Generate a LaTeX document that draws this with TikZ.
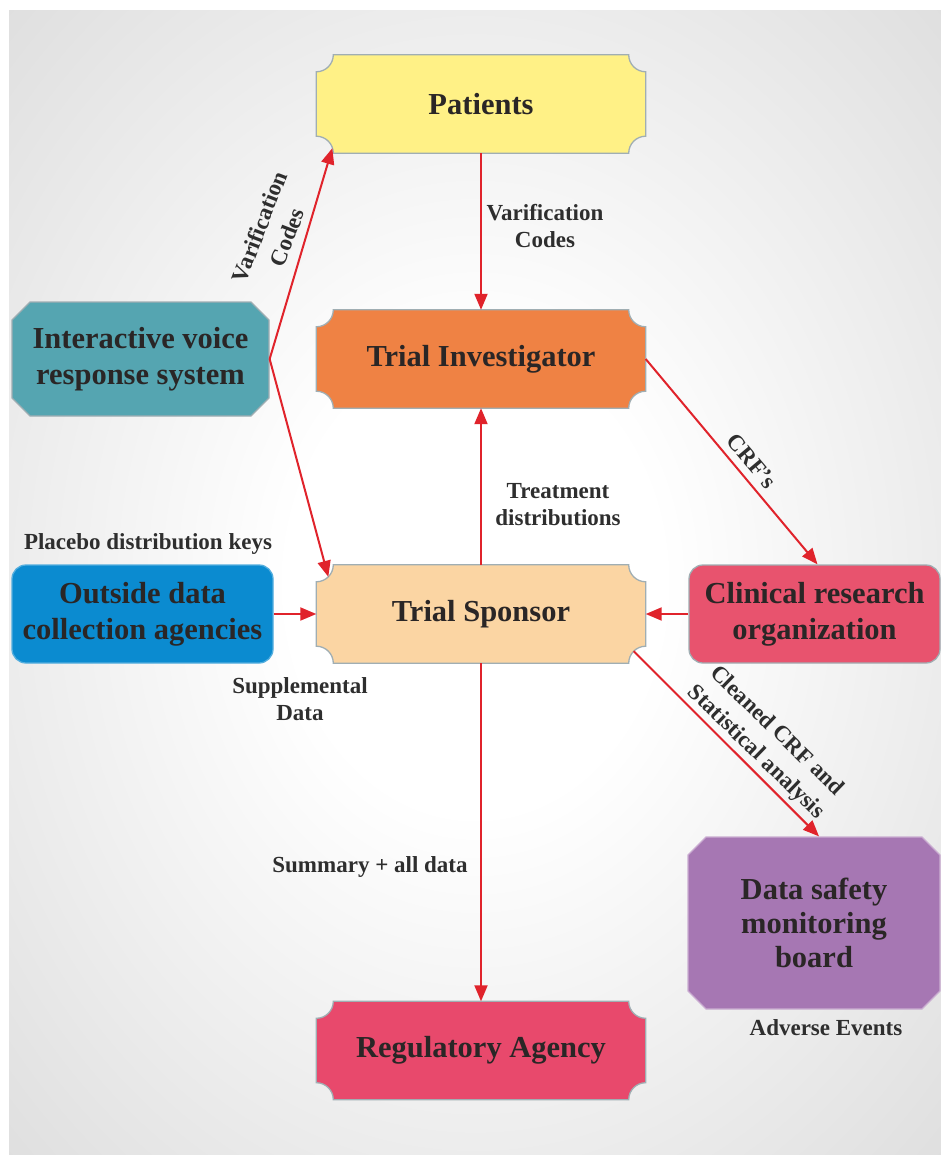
\documentclass[tikz,border=0pt]{standalone}
\usepackage{fontspec}
\setmainfont{Liberation Serif}
\usetikzlibrary{arrows.meta,shapes.misc,calc}
\pgfdeclarelayer{back}
\pgfdeclarelayer{shapes}
\pgfsetlayers{back,shapes,main}
\definecolor{patfill}{HTML}{FFF186}
\definecolor{invfill}{HTML}{EF8244}
\definecolor{spofill}{HTML}{FBD5A3}
\definecolor{regfill}{HTML}{E8496C}
\definecolor{ivrfill}{HTML}{55A5B1}
\definecolor{outfill}{HTML}{0B8BD0}
\definecolor{crofill}{HTML}{E8536E}
\definecolor{dsmfill}{HTML}{A677B3}
\definecolor{border}{HTML}{A0AEB3}
\definecolor{txt}{HTML}{2A2626}
\definecolor{lbltxt}{HTML}{2E2E2E}
\definecolor{arrowred}{HTML}{E0232B}
\definecolor{bgmid}{HTML}{CDCDCD}
\definecolor{bgout}{HTML}{C6C6C6}
\pgfdeclareradialshading{bgshade}{\pgfpoint{0bp}{0bp}}{color(0bp)=(white); color(10bp)=(white); color(50bp)=(bgmid); color(72bp)=(bgout)}
\tikzset{
  boxtext/.style={font=\bfseries\fontsize{30.5}{36}\selectfont, text=txt, align=center, inner sep=0pt},
  notchbox/.style={boxtext, rectangle, minimum width=329pt, minimum height=98pt},
  chambox/.style={boxtext, chamfered rectangle, chamfered rectangle xsep=9pt, chamfered rectangle ysep=9pt, draw=border, line width=1.3pt},
  roundbox/.style={boxtext, rectangle, rounded corners=14pt, draw=border, line width=1.3pt},
  lbl/.style={font=\bfseries\fontsize{23}{27}\selectfont, text=lbltxt, align=center, inner sep=0pt},
  rlbl/.style={lbl, font=\bfseries\fontsize{23}{29.5}\selectfont},
  flow/.style={draw=arrowred, line width=2pt, -{Triangle[length=16pt,width=13pt]}},
}
\newcommand\notchfill[2]{%
  \begin{pgfonlayer}{shapes}
  \path[fill=#2, draw=border, line width=1.3pt]
    let \p1=(#1.north west), \p2=(#1.south east) in
    (\x1,\y1-17pt) arc[start angle=270,end angle=360,radius=17pt]
    -- (\x2-17pt,\y1) arc[start angle=180,end angle=270,radius=17pt]
    -- (\x2,\y2+17pt) arc[start angle=90,end angle=180,radius=17pt]
    -- (\x1+17pt,\y2) arc[start angle=0,end angle=90,radius=17pt]
    -- cycle;
  \end{pgfonlayer}}
\begin{document}
\begin{tikzpicture}[x=1pt,y=1pt]
\useasboundingbox (0,0) rectangle (941,-1155);
\begin{pgfonlayer}{back}
  \fill[white] (0,0) rectangle (941,-1155);
  \shade[shading=bgshade] (9,-11) rectangle (941,-1155);
\end{pgfonlayer}

% notched boxes
\node[notchbox] (pat) at (481,-104) {Patients};
\notchfill{pat}{patfill}
\node[notchbox] (inv) at (481,-359) {Trial Investigator};
\notchfill{inv}{invfill}
\node[notchbox] (spo) at (481,-614) {Trial Sponsor};
\notchfill{spo}{spofill}
\node[notchbox] (reg) at (481,-1050.5) {Regulatory Agency};
\notchfill{reg}{regfill}

% other boxes
\node[chambox, fill=ivrfill, minimum width=257pt, minimum height=114pt] (ivr) at (140.5,-359) {Interactive voice\\response system};
\node[roundbox, fill=outfill, draw=outfill!70!white, minimum width=261pt, minimum height=98pt] (out) at (142.5,-614) {Outside data\\collection agencies};
\node[roundbox, fill=crofill, minimum width=251pt, minimum height=98pt] (cro) at (814.5,-614) {Clinical research\\organization};
\node[chambox, fill=dsmfill, draw=dsmfill!60!white, minimum width=252pt, minimum height=172pt, font=\bfseries\fontsize{30.5}{34}\selectfont] (dsm) at (814,-923) {Data safety\\monitoring\\board};

% connectors
\draw[flow] (pat.south) -- (inv.north);
\draw[flow] (spo.north) -- (inv.south);
\draw[flow] (ivr.east) -- ([shift={(16pt,5pt)}]pat.south west);
\draw[flow] (ivr.east) -- ([shift={(12pt,-12pt)}]spo.north west);
\draw[flow] (inv.east) -- ([xshift=3pt]cro.north);
\draw[flow] (cro.west) -- (spo.east);
\draw[flow] (out.east) -- (spo.west);
\draw[flow] ([shift={(-12pt,12pt)}]spo.south east) -- ([xshift=5pt]dsm.north);
\draw[flow] (spo.south) -- (reg.north);

% labels
\node[lbl] (l1) at (545,-226) {Varification\\Codes};
\node[lbl] (l2) at (558,-505) {Treatment\\distributions};
\node[rlbl, rotate=69] (l3) at (273,-232) {Varification\\Codes};
\node[lbl, rotate=-50] (l4) at (752,-461) {CRF's};
\node[rlbl, rotate=-44] (l5) at (766,-742) {Cleaned CRF and\\Statistical analysis};
\node[lbl] (l6) at (148,-544) {Placebo distribution keys};
\node[lbl] (l7) at (300,-699) {Supplemental\\Data};
\node[lbl] (l8) at (370,-867) {Summary + all data};
\node[lbl] (l9) at (826,-1028) {Adverse Events};
\end{tikzpicture}
\end{document}
